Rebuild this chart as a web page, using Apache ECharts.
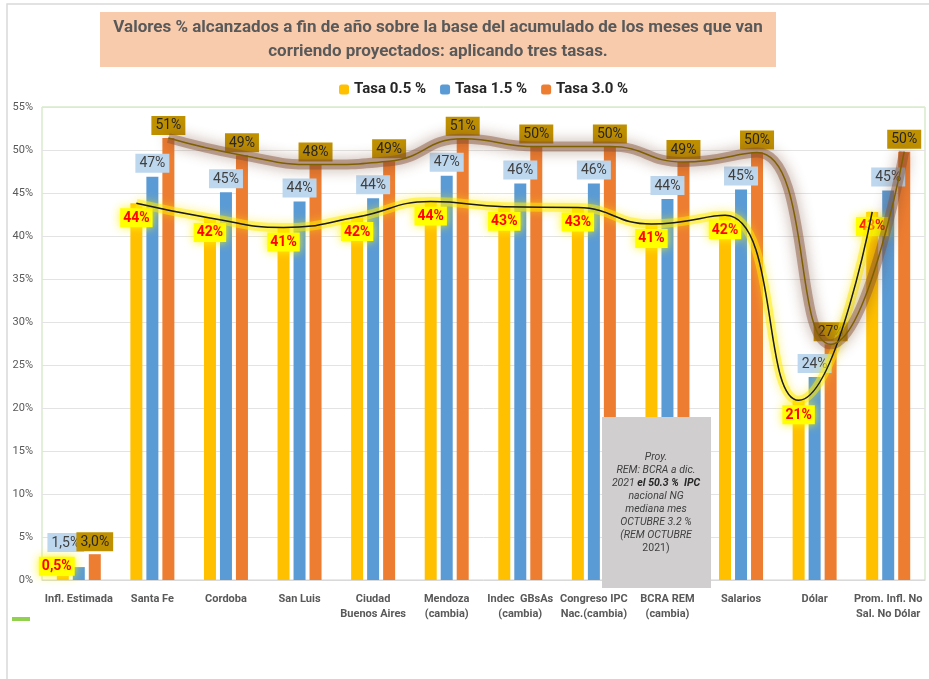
<!DOCTYPE html>
<html>
<head>
<meta charset="utf-8">
<script src="https://cdn.jsdelivr.net/npm/echarts@6/dist/echarts.min.js"></script>
<style>html,body{margin:0;padding:0;background:#fff}#c{width:929px;height:679px}</style>
</head>
<body>
<div id="c"></div>
<script>
const categories = ['Infl. Estimada','Santa Fe','Cordoba','San Luis','Ciudad\nBuenos Aires','Mendoza\n(cambia)','Indec  GBsAs\n(cambia)','Congreso IPC\nNac.(cambia)','BCRA REM\n(cambia)','Salarios','Dólar','Prom. Infl. No\nSal. No Dólar'];
const seriesNames = ['Tasa 0.5 %','Tasa 1.5 %','Tasa 3.0 %'];
const tasa05 = [0.5, 43.8, 42.1, 41.0, 42.2, 44.0, 43.4, 43.3, 41.4, 42.4, 20.9, 42.8];
const tasa15 = [1.5, 46.9, 45.1, 44.0, 44.4, 47.0, 46.1, 46.1, 44.3, 45.4, 23.6, 45.3];
const tasa30 = [3.0, 51.4, 49.4, 48.3, 48.7, 51.3, 50.4, 50.4, 48.6, 49.7, 27.4, 49.8];
const yMin = 0, yMax = 55, yStep = 5;
const trendStart = 1; // trend curves start at "Santa Fe"
const titleLines = ['Valores % alcanzados a fin de año sobre la base del acumulado de los meses que van','corriendo proyectados: aplicando tres tasas.'];
const noteText = ['Proy.','REM: BCRA a dic.','2021 ','el 50.3 %  IPC','nacional NG','mediana mes','OCTUBRE 3.2 %','(REM OCTUBRE','2021)'];

const W = 929, H = 679;
const grid = {left: 42, right: 4, top: 107, bottom: 99};
const barW = 12, gapPx = 4;
const catW = (W - grid.left - grid.right) / categories.length;
const off = (barW + gapPx) / catW;

function fmt(p) {
  const v = p.value;
  if (v < 5) return v.toFixed(1).replace('.', ',') + '%';
  return Math.round(v) + '%';
}
function trend(vals, shift) {
  const out = [];
  vals.forEach((v, i) => { if (i >= trendStart) out.push([i + shift, v]); });
  return out;
}
const FONT = 'Roboto';

const labelY = {show: true, position: 'insideTop', distance: 5, formatter: fmt, color: '#FF0000', fontWeight: 'bold', fontSize: 14, fontFamily: FONT, backgroundColor: '#FFFF00', padding: [3, 3, 2, 3], shadowColor: 'rgba(255,245,0,0.95)', shadowBlur: 10};
const labelB = {show: true, position: 'top', distance: 4, formatter: fmt, color: '#404040', fontSize: 14, fontFamily: FONT, backgroundColor: '#BDD7EE', padding: [3, 4, 2, 4]};
const labelO = {show: true, position: 'top', distance: 3, formatter: fmt, color: '#262626', fontSize: 14, fontFamily: FONT, backgroundColor: '#BF9000', padding: [3, 4, 2, 4]};

const d05 = tasa05.map((v, i) => i === 0 ? {value: v, label: {position: 'top', distance: 0, offset: [-6, 0]}} : v);
const d15 = tasa15.map((v, i) => i === 0 ? {value: v, label: {position: 'top', distance: 15, offset: [-13, 0]}} : v);
const d30 = tasa30.map((v, i) => v);

const chart = echarts.init(document.getElementById('c'), null, {renderer: 'canvas'});
chart.setOption({
  animation: false,
  textStyle: {fontFamily: FONT},
  legend: {
    data: seriesNames, top: 77, left: 334, itemWidth: 10, itemHeight: 10, itemGap: 14,
    textStyle: {fontSize: 15, fontWeight: 'bold', color: '#262626', fontFamily: FONT}
  },
  grid: Object.assign({show: true, borderColor: '#C5E0B4', borderWidth: 1, backgroundColor: 'transparent'}, grid),
  xAxis: [{
    type: 'category', data: categories,
    axisLine: {show: true, lineStyle: {color: '#D9D9D9'}},
    axisTick: {show: false},
    axisLabel: {interval: 0, color: '#595959', fontSize: 11, fontWeight: 'bold', fontFamily: FONT, margin: 12, lineHeight: 15}
  }, {
    type: 'value', min: -0.5, max: categories.length - 0.5, show: false
  }],
  yAxis: {
    type: 'value', min: yMin, max: yMax, interval: yStep,
    axisLine: {show: false}, axisTick: {show: false},
    axisLabel: {formatter: '{value}%', color: '#595959', fontSize: 11, fontFamily: FONT, margin: 9},
    splitLine: {lineStyle: {color: '#E3E3E3'}}
  },
  series: [
    {name: seriesNames[0], type: 'bar', data: d05, barWidth: barW, barGap: (gapPx / barW * 100) + '%', itemStyle: {color: '#FFC000'}, label: labelY, z: 2},
    {name: seriesNames[1], type: 'bar', data: d15, barWidth: barW, itemStyle: {color: '#5B9BD5'}, label: labelB, z: 2},
    {name: seriesNames[2], type: 'bar', data: d30, barWidth: barW, itemStyle: {color: '#ED7D31'}, label: labelO, z: 2},
    {type: 'line', xAxisIndex: 1, data: trend(tasa05, -off), smooth: 0.5, symbol: 'none', silent: true, z: 3,
     lineStyle: {width: 9, color: 'rgba(255,236,0,0.5)', shadowColor: 'rgba(255,230,0,0.9)', shadowBlur: 10}},
    {type: 'line', xAxisIndex: 1, data: trend(tasa05, -off), smooth: 0.5, symbol: 'none', silent: true, z: 4,
     lineStyle: {width: 1.5, color: '#1A1A1A'}},
    {type: 'line', xAxisIndex: 1, data: trend(tasa30, off), smooth: 0.5, symbol: 'none', silent: true, z: 3,
     lineStyle: {width: 10, color: 'rgba(130,78,50,0.45)', shadowColor: 'rgba(110,60,35,0.95)', shadowBlur: 14}},
    {type: 'line', xAxisIndex: 1, data: trend(tasa30, off), smooth: 0.5, symbol: 'none', silent: true, z: 4,
     lineStyle: {width: 1.5, color: '#7F6000'}}
  ],
  graphic: [
    {type: 'rect', z: -10, shape: {x: 7, y: 4, width: 940, height: 700}, style: {fill: 'none', stroke: '#D9D9D9', lineWidth: 1.5}},
    {type: 'rect', z: 10, shape: {x: 100, y: 12, width: 676, height: 55}, style: {fill: '#F8CBAD'}},
    {type: 'text', z: 11, x: 438, y: 40, style: {text: titleLines.join('\n'), align: 'center', verticalAlign: 'middle', fill: '#595959', font: 'bold 17px Roboto', lineHeight: 24}},
    {type: 'rect', z: 100, shape: {x: 12, y: 617, width: 18, height: 4}, style: {fill: '#92D050'}},
    {type: 'rect', z: 100, shape: {x: 602, y: 417, width: 109, height: 171}, style: {fill: '#D0CECE'}},
    {type: 'text', z: 101, x: 656, y: 503, style: {
      text: '{i|' + noteText[0] + '}\n{i|' + noteText[1] + '}\n{i|' + noteText[2] + '}{b|' + noteText[3] + '}\n{i|' + noteText[4] + '}\n{i|' + noteText[5] + '}\n{i|' + noteText[6] + '}\n{i|' + noteText[7] + '}\n{n|' + noteText[8] + '}',
      align: 'center', verticalAlign: 'middle',
      rich: {
        i: {fontStyle: 'italic', fontSize: 10.5, fill: '#404040', lineHeight: 13, fontFamily: FONT},
        b: {fontStyle: 'italic', fontWeight: 'bold', fontSize: 10.5, fill: '#262626', lineHeight: 13, fontFamily: FONT},
        n: {fontSize: 10.5, fill: '#404040', lineHeight: 13, fontFamily: FONT}
      }
    }}
  ]
});
</script>
</body>
</html>
